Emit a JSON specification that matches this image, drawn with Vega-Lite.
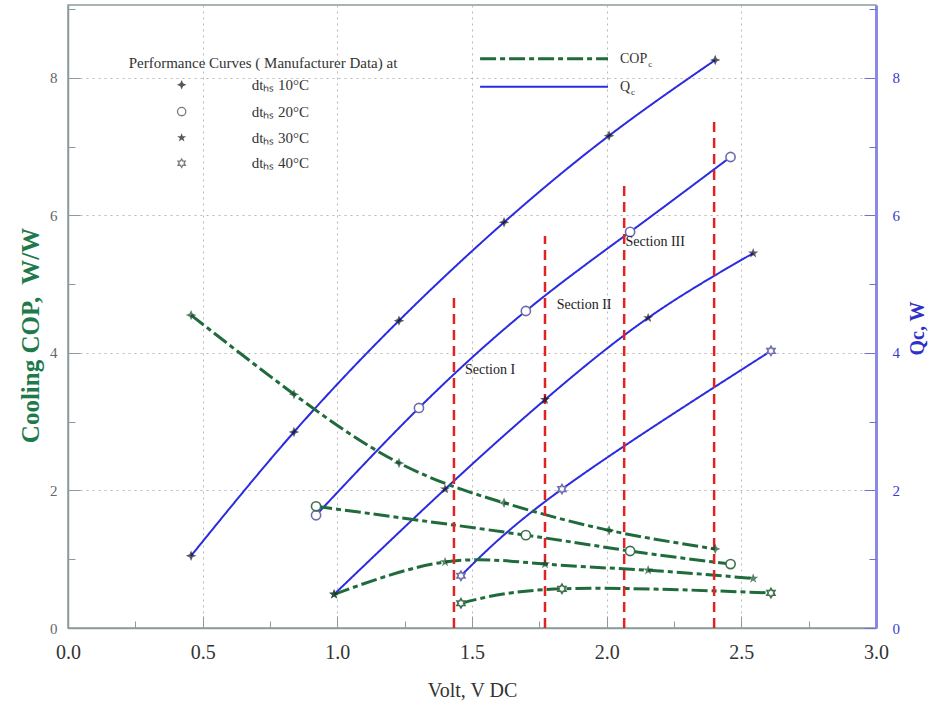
{
  "$schema": "https://vega.github.io/schema/vega-lite/v6.json",
  "width": 808,
  "height": 623,
  "autosize": {"type": "none"},
  "padding": {"left": 68, "top": 5, "right": 68, "bottom": 76},
  "background": "white",
  "config": {
    "view": {"stroke": "#8c9c9c", "strokeWidth": 1.5},
    "font": "Liberation Serif"
  },
  "datasets": {
    "curves": [
      {"s": "Q", "dt": 10, "v": 0.457, "y": 1.05},
      {"s": "Q", "dt": 10, "v": 0.839, "y": 2.85},
      {"s": "Q", "dt": 10, "v": 1.229, "y": 4.47},
      {"s": "Q", "dt": 10, "v": 1.619, "y": 5.9},
      {"s": "Q", "dt": 10, "v": 2.009, "y": 7.16},
      {"s": "Q", "dt": 10, "v": 2.403, "y": 8.26},
      {"s": "Q", "dt": 20, "v": 0.921, "y": 1.64},
      {"s": "Q", "dt": 20, "v": 1.303, "y": 3.2},
      {"s": "Q", "dt": 20, "v": 1.7, "y": 4.61},
      {"s": "Q", "dt": 20, "v": 2.087, "y": 5.76},
      {"s": "Q", "dt": 20, "v": 2.46, "y": 6.85},
      {"s": "Q", "dt": 30, "v": 0.988, "y": 0.49},
      {"s": "Q", "dt": 30, "v": 1.4, "y": 2.02},
      {"s": "Q", "dt": 30, "v": 1.771, "y": 3.32},
      {"s": "Q", "dt": 30, "v": 2.154, "y": 4.51},
      {"s": "Q", "dt": 30, "v": 2.544, "y": 5.45},
      {"s": "Q", "dt": 40, "v": 1.459, "y": 0.76},
      {"s": "Q", "dt": 40, "v": 1.834, "y": 2.02},
      {"s": "Q", "dt": 40, "v": 2.61, "y": 4.03},
      {"s": "COP", "dt": 10, "v": 0.457, "y": 4.55},
      {"s": "COP", "dt": 10, "v": 0.839, "y": 3.4},
      {"s": "COP", "dt": 10, "v": 1.229, "y": 2.4},
      {"s": "COP", "dt": 10, "v": 1.619, "y": 1.82},
      {"s": "COP", "dt": 10, "v": 2.009, "y": 1.42},
      {"s": "COP", "dt": 10, "v": 2.403, "y": 1.15},
      {"s": "COP", "dt": 20, "v": 0.921, "y": 1.77},
      {"s": "COP", "dt": 20, "v": 1.7, "y": 1.35},
      {"s": "COP", "dt": 20, "v": 2.087, "y": 1.12},
      {"s": "COP", "dt": 20, "v": 2.46, "y": 0.93},
      {"s": "COP", "dt": 30, "v": 0.988, "y": 0.49},
      {"s": "COP", "dt": 30, "v": 1.4, "y": 0.96},
      {"s": "COP", "dt": 30, "v": 1.771, "y": 0.93},
      {"s": "COP", "dt": 30, "v": 2.154, "y": 0.84},
      {"s": "COP", "dt": 30, "v": 2.544, "y": 0.72},
      {"s": "COP", "dt": 40, "v": 1.459, "y": 0.36},
      {"s": "COP", "dt": 40, "v": 1.834, "y": 0.57},
      {"s": "COP", "dt": 40, "v": 2.61, "y": 0.51}
    ],
    "sections": [
      {"v": 1.433, "lo": 0, "top": 4.8},
      {"v": 1.771, "lo": 0, "top": 5.7},
      {"v": 2.065, "lo": 0, "top": 6.45},
      {"v": 2.399, "lo": 0, "top": 7.43}
    ],
    "sectionLabels": [
      {"label": "Section I", "v": 1.567, "y": 3.75},
      {"label": "Section II", "v": 1.916, "y": 4.7},
      {"label": "Section III", "v": 2.18, "y": 5.61}
    ],
    "legendSymbols": [
      {"dt": 10, "v": 0.422, "y": 7.9, "label": "dtₕₛ 10°C"},
      {"dt": 20, "v": 0.422, "y": 7.51, "label": "dtₕₛ 20°C"},
      {"dt": 30, "v": 0.422, "y": 7.13, "label": "dtₕₛ 30°C"},
      {"dt": 40, "v": 0.422, "y": 6.76, "label": "dtₕₛ 40°C"}
    ],
    "legendLines": [
      {"s": "COP", "v": 1.53, "v2": 2.005, "y": 8.28, "label": "COP", "sub": "c", "vs": 2.154},
      {"s": "Q", "v": 1.53, "v2": 2.005, "y": 7.87, "label": "Q", "sub": "c", "vs": 2.09}
    ],
    "legendTitle": [
      {"label": "Performance Curves ( Manufacturer Data)  at", "v": 0.724, "y": 8.22}
    ]
  },
  "layer": [
    {
      "data": {"name": "curves"},
      "mark": {"type": "line", "interpolate": "natural"},
      "encoding": {
        "x": {
          "field": "v", "type": "quantitative",
          "scale": {"domain": [0, 3], "nice": false},
          "axis": {
            "orient": "bottom",
            "values": [0, 0.5, 1, 1.5, 2, 2.5, 3],
            "format": ".1f",
            "labelFlush": false,
            "grid": true,
            "gridDash": [2, 4],
            "gridColor": "#b8b8b8",
            "tickSize": -12,
            "tickColor": "#8c9c9c",
            "domainColor": "#8c9c9c",
            "domainWidth": 1.5,
            "labelPadding": 26,
            "labelFontSize": 20,
            "labelColor": "#333333",
            "labelFont": "Liberation Serif",
            "title": "Volt, V DC",
            "titleFont": "Liberation Serif",
            "titleFontSize": 20,
            "titleFontWeight": "normal",
            "titleColor": "#333333",
            "titlePadding": 18
          }
        },
        "y": {
          "field": "y", "type": "quantitative",
          "scale": {"domain": [0, 9.06], "nice": false},
          "axis": {
            "orient": "left",
            "values": [0, 2, 4, 6, 8],
            "labelFlush": false,
            "grid": true,
            "gridDash": [2, 4],
            "gridColor": "#b8b8b8",
            "tickSize": -12,
            "tickColor": "#8c9c9c",
            "domainColor": "#8c9c9c",
            "domainWidth": 1.5,
            "labelPadding": 23,
            "labelFontSize": 15,
            "labelColor": "#666666",
            "labelFont": "Liberation Serif",
            "title": "Cooling COP,\u00a0 W/W",
            "titleFont": "Liberation Serif",
            "titleFontSize": 25,
            "titleFontWeight": "bold",
            "titleColor": "#1e7a4a",
            "titlePadding": 6,
            "titleY": 330
          }
        },
        "color": {"field": "s", "type": "nominal", "scale": {"domain": ["COP", "Q"], "range": ["#1f6b3c", "#2b2be0"]}, "legend": null},
        "strokeDash": {"field": "s", "type": "nominal", "scale": {"domain": ["COP", "Q"], "range": [[16, 4, 5, 4], [1, 0]]}, "legend": null},
        "strokeWidth": {"field": "s", "type": "nominal", "scale": {"domain": ["COP", "Q"], "range": [3, 2]}, "legend": null},
        "detail": {"field": "dt", "type": "nominal"}
      }
    },
    {
      "data": {"name": "sections"},
      "mark": {"type": "rule", "color": "#e02424", "strokeWidth": 2.5, "strokeDash": [10, 6]},
      "encoding": {
        "x": {
          "field": "v", "type": "quantitative",
          "axis": {
            "orient": "bottom",
            "values": [0.25, 0.75, 1.25, 1.75, 2.25, 2.75],
            "labels": false, "domain": false, "grid": false, "title": null,
            "tickSize": -7, "tickColor": "#8c9c9c"
          }
        },
        "y": {
          "field": "lo", "type": "quantitative",
          "axis": {
            "orient": "left",
            "values": [1, 3, 5, 7, 9],
            "labels": false, "domain": false, "grid": false, "title": null,
            "tickSize": -7, "tickColor": "#8c9c9c"
          }
        },
        "y2": {"field": "top"}
      }
    },
    {
      "data": {"name": "curves"},
      "transform": [{"filter": "datum.dt == 10 || datum.dt == 30"}],
      "mark": {"type": "point", "filled": true, "size": 110, "strokeWidth": 0},
      "encoding": {
        "x": {"field": "v", "type": "quantitative", "axis": null},
        "y": {
          "field": "y", "type": "quantitative",
          "axis": {
            "orient": "right",
            "values": [0, 2, 4, 6, 8],
            "labelFlush": false,
            "grid": false,
            "tickSize": -12,
            "tickColor": "#7070d0",
            "domainColor": "#8a8ae6",
            "domainWidth": 3,
            "labelPadding": 28,
            "labelFontSize": 15,
            "labelColor": "#3a3ad0",
            "labelFont": "Liberation Serif",
            "title": "Qc, W",
            "titleFont": "Liberation Serif",
            "titleFontSize": 20,
            "titleFontWeight": "bold",
            "titleColor": "#3030c8",
            "titleAngle": 270,
            "titleAlign": "center",
            "titleBaseline": "middle",
            "titleX": 41,
            "titleY": 323
          }
        },
        "shape": {
          "field": "dt", "type": "nominal",
          "scale": {"domain": [10, 20, 30, 40], "range": ["M0,-1L0.3,-0.3L1,0L0.3,0.3L0,1L-0.3,0.3L-1,0L-0.3,-0.3Z", "circle", "M0,-1L0.235,-0.324L0.951,-0.309L0.38,0.124L0.588,0.809L0,0.4L-0.588,0.809L-0.38,0.124L-0.951,-0.309L-0.235,-0.324Z", "M0,-1L0.289,-0.5L0.866,-0.5L0.577,0L0.866,0.5L0.289,0.5L0,1L-0.289,0.5L-0.866,0.5L-0.577,0L-0.866,-0.5L-0.289,-0.5Z"]},
          "legend": null
        },
        "fill": {"field": "s", "type": "nominal", "scale": {"domain": ["COP", "Q"], "range": ["#174f2c", "#111122"]}, "legend": null}
      }
    },
    {
      "data": {"name": "curves"},
      "transform": [{"filter": "datum.dt == 20 || datum.dt == 40"}],
      "mark": {"type": "point", "filled": false, "fill": "white", "fillOpacity": 1, "size": 85, "strokeWidth": 1.6},
      "encoding": {
        "x": {"field": "v", "type": "quantitative", "axis": null},
        "y": {
          "field": "y", "type": "quantitative",
          "axis": {
            "orient": "right",
            "values": [1, 3, 5, 7, 9],
            "labels": false, "domain": false, "grid": false, "title": null,
            "tickSize": -7, "tickColor": "#7070d0"
          }
        },
        "shape": {"field": "dt", "type": "nominal", "legend": null},
        "stroke": {"field": "s", "type": "nominal", "scale": {"domain": ["COP", "Q"], "range": ["#3d6e4d", "#6c6cae"]}, "legend": null}
      }
    },
    {
      "data": {"name": "sectionLabels"},
      "mark": {"type": "text", "fontSize": 14, "font": "Liberation Serif", "color": "#222222", "align": "center", "baseline": "middle"},
      "encoding": {
        "x": {"field": "v", "type": "quantitative", "axis": null},
        "y": {"field": "y", "type": "quantitative", "axis": null},
        "text": {"field": "label", "type": "nominal"}
      }
    },
    {
      "data": {"name": "legendTitle"},
      "mark": {"type": "text", "fontSize": 15, "font": "Liberation Serif", "color": "#333333", "align": "center", "baseline": "middle"},
      "encoding": {
        "x": {"field": "v", "type": "quantitative", "axis": null},
        "y": {"field": "y", "type": "quantitative", "axis": null},
        "text": {"field": "label", "type": "nominal"}
      }
    },
    {
      "data": {"name": "legendSymbols"},
      "transform": [{"filter": "datum.dt == 10 || datum.dt == 30"}],
      "mark": {"type": "point", "filled": true, "size": 90, "color": "#111111", "strokeWidth": 0},
      "encoding": {
        "x": {"field": "v", "type": "quantitative", "axis": null},
        "y": {"field": "y", "type": "quantitative", "axis": null},
        "shape": {"field": "dt", "type": "nominal", "legend": null}
      }
    },
    {
      "data": {"name": "legendSymbols"},
      "transform": [{"filter": "datum.dt == 20 || datum.dt == 40"}],
      "mark": {"type": "point", "filled": false, "fill": "white", "size": 70, "stroke": "#444444", "strokeWidth": 1.3},
      "encoding": {
        "x": {"field": "v", "type": "quantitative", "axis": null},
        "y": {"field": "y", "type": "quantitative", "axis": null},
        "shape": {"field": "dt", "type": "nominal", "legend": null}
      }
    },
    {
      "data": {"name": "legendSymbols"},
      "mark": {"type": "text", "fontSize": 15, "font": "Liberation Serif", "color": "#333333", "align": "left", "baseline": "middle", "dx": 70},
      "encoding": {
        "x": {"field": "v", "type": "quantitative", "axis": null},
        "y": {"field": "y", "type": "quantitative", "axis": null},
        "text": {"field": "label", "type": "nominal"}
      }
    },
    {
      "data": {"name": "legendLines"},
      "mark": {"type": "rule"},
      "encoding": {
        "x": {"field": "v", "type": "quantitative", "axis": null},
        "x2": {"field": "v2"},
        "y": {"field": "y", "type": "quantitative", "axis": null},
        "color": {"field": "s", "type": "nominal", "legend": null},
        "strokeDash": {"field": "s", "type": "nominal", "legend": null},
        "strokeWidth": {"field": "s", "type": "nominal", "legend": null}
      }
    },
    {
      "data": {"name": "legendLines"},
      "mark": {"type": "text", "fontSize": 14, "font": "Liberation Serif", "color": "#333333", "align": "left", "baseline": "middle", "dx": 12},
      "encoding": {
        "x": {"field": "v2", "type": "quantitative", "axis": null},
        "y": {"field": "y", "type": "quantitative", "axis": null},
        "text": {"field": "label", "type": "nominal"}
      }
    },
    {
      "data": {"name": "legendLines"},
      "mark": {"type": "text", "fontSize": 9, "font": "Liberation Serif", "color": "#333333", "align": "left", "baseline": "middle", "dy": 5},
      "encoding": {
        "x": {"field": "vs", "type": "quantitative", "axis": null},
        "y": {"field": "y", "type": "quantitative", "axis": null},
        "text": {"field": "sub", "type": "nominal"}
      }
    }
  ],
  "resolve": {"axis": {"x": "independent", "y": "independent"}}
}
